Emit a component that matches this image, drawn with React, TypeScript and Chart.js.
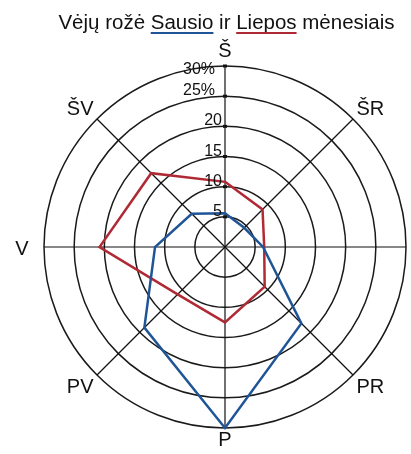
import React, { useEffect, useRef } from 'react';
import { Chart, registerables } from 'chart.js';

Chart.register(...registerables);

// ---- data ----
const DIRECTIONS = ['Š', 'ŠR', 'R', 'PR', 'P', 'PV', 'V', 'ŠV'];
const SAUSIO = [5.6, 4.5, 6.3, 17.9, 30, 18.9, 11.6, 7.8];
const LIEPOS = [10.8, 8.8, 6.5, 9.3, 12.5, 11.1, 20.8, 17.3];
const TICK_VALUES = [5, 10, 15, 20, 25, 30];
const TICK_LABELS = ['5', '10', '15', '20', '25%', '30%'];
const TITLE_PARTS = ['Vėjų rožė ', 'Sausio', ' ir ', 'Liepos', ' mėnesiais'];

// ---- styles ----
const BLUE = '#1f5597';
const RED = '#b02a35';
const FONT = '"Liberation Sans", Arial, sans-serif';
const TITLE_UNDERLINE: (string | null)[] = [null, BLUE, null, RED, null];
const LABEL_GAP = { top: 9, bottom: 4, side: 15.5, diagonal: 5 };

const overlay = {
  id: 'overlay',
  afterDraw(chart: any) {
    const s = chart.scales.r;
    const ctx: CanvasRenderingContext2D = chart.ctx;
    const R = s.drawingArea;
    ctx.save();

    // title
    ctx.font = `20.5px ${FONT}`;
    ctx.fillStyle = '#111';
    ctx.textAlign = 'left';
    ctx.textBaseline = 'alphabetic';
    const widths = TITLE_PARTS.map((t) => ctx.measureText(t).width);
    const total = widths.reduce((a, b) => a + b, 0);
    let x = s.xCenter + 1.5 - total / 2;
    const ty = 29;
    TITLE_PARTS.forEach((t, i) => {
      ctx.fillText(t, x, ty);
      const u = TITLE_UNDERLINE[i];
      if (u) {
        ctx.strokeStyle = u;
        ctx.lineWidth = 2;
        ctx.beginPath();
        ctx.moveTo(x, ty + 4);
        ctx.lineTo(x + widths[i], ty + 4);
        ctx.stroke();
      }
      x += widths[i];
    });

    // tick marks & tick labels on the north axis
    ctx.font = `16px ${FONT}`;
    ctx.textAlign = 'right';
    TICK_VALUES.forEach((v, i) => {
      const p = s.getPointPositionForValue(0, v);
      ctx.fillRect(p.x - 2, p.y - 1.5, 4, 3);
      const label = TICK_LABELS[i];
      const baseline = Math.max(p.y - 1, s.yCenter - R + 8);
      const xr = p.x - 3 - (label.endsWith('%') ? 7 : 0);
      ctx.fillText(label, xr, baseline);
    });

    // point labels
    ctx.font = `20px ${FONT}`;
    const capH = 0.716 * 20;
    DIRECTIONS.forEach((lab, i) => {
      const ang = s.getIndexAngle(i);
      const sn = Math.sin(ang);
      const cs = Math.cos(ang);
      const horiz = sn > 0.1 ? 'right' : sn < -0.1 ? 'left' : 'center';
      const vert = cs > 0.1 ? 'top' : cs < -0.1 ? 'bottom' : 'middle';
      let gap = LABEL_GAP.diagonal;
      if (horiz === 'center') gap = vert === 'top' ? LABEL_GAP.top : LABEL_GAP.bottom;
      else if (vert === 'middle') gap = LABEL_GAP.side;
      const p = s.getPointPosition(i, R + gap);
      ctx.textAlign = horiz === 'right' ? 'left' : horiz === 'left' ? 'right' : 'center';
      let by = p.y;
      if (vert === 'bottom') by = p.y + capH;
      else if (vert === 'middle') by = p.y + capH / 2 + 1;
      ctx.fillText(lab, p.x, by);
    });

    ctx.restore();
  },
};

export default function App() {
  const ref = useRef<HTMLCanvasElement>(null);

  useEffect(() => {
    if (!ref.current) return;
    const chart = new Chart(ref.current, {
      type: 'radar',
      data: {
        labels: DIRECTIONS,
        datasets: [
          {
            label: 'Sausio',
            data: SAUSIO,
            borderColor: BLUE,
            backgroundColor: 'transparent',
            borderWidth: 2.5,
            pointRadius: 0,
            fill: false,
          },
          {
            label: 'Liepos',
            data: LIEPOS,
            borderColor: RED,
            backgroundColor: 'transparent',
            borderWidth: 2.5,
            pointRadius: 0,
            fill: false,
          },
        ],
      },
      options: {
        responsive: false,
        animation: false,
        devicePixelRatio: 1,
        layout: { padding: { left: 44, right: 5, top: 66, bottom: 26 } },
        elements: { line: { tension: 0 } },
        plugins: {
          legend: { display: false },
          title: { display: false },
          tooltip: { enabled: false },
        },
        scales: {
          r: {
            min: 0,
            max: 30,
            ticks: { stepSize: 5, display: false },
            grid: { circular: true, color: '#1a1a1a', lineWidth: 1.5 },
            angleLines: { color: '#111', lineWidth: 1.2 },
            pointLabels: { display: false },
          },
        },
      },
      plugins: [overlay],
    });
    return () => chart.destroy();
  }, []);

  return (
    <div style={{ position: 'fixed', left: 0, top: 0, width: 411, height: 454, background: '#fff', overflow: 'hidden' }}>
      <canvas ref={ref} width={411} height={454} style={{ display: 'block', width: 411, height: 454 }} />
    </div>
  );
}
